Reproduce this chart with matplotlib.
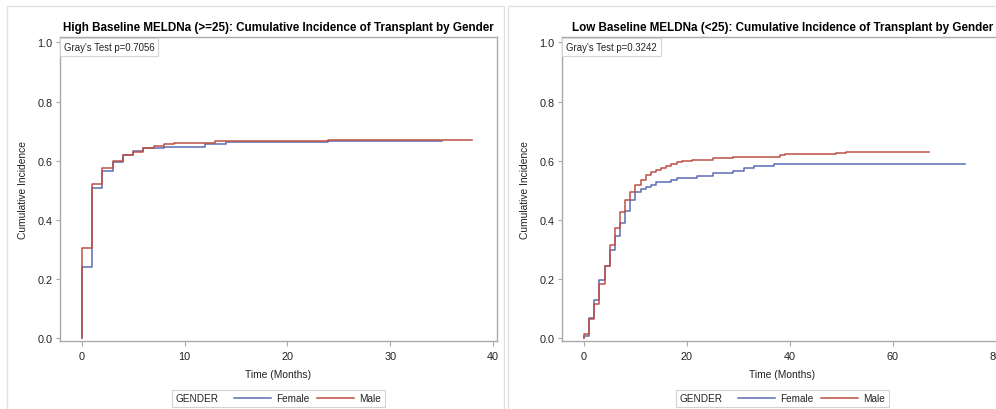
import matplotlib
matplotlib.use("Agg")
import matplotlib.pyplot as plt
from matplotlib.lines import Line2D
from matplotlib.patches import Rectangle
from matplotlib.offsetbox import HPacker

plt.rcParams['font.family'] = ['Liberation Sans', 'DejaVu Sans']

# ---------------- data ----------------
titles = ["High Baseline MELDNa (>=25): Cumulative Incidence of Transplant by Gender",
          "Low Baseline MELDNa (<25): Cumulative Incidence of Transplant by Gender"]
gray_tests = ["Gray's Test p=0.7056", "Gray's Test p=0.3242"]

# High baseline panel
high_female_t = [0, 1, 2, 3, 4, 5, 6, 7, 8, 12, 14, 24, 35]
high_female_ci = [0.240, 0.508, 0.564, 0.595, 0.620, 0.632, 0.642, 0.644, 0.646, 0.655, 0.664, 0.667, 0.667]
high_male_t = [0, 1, 2, 3, 4, 5, 6, 7, 8, 9, 13, 24, 38]
high_male_ci = [0.305, 0.521, 0.577, 0.599, 0.621, 0.628, 0.644, 0.651, 0.656, 0.660, 0.665, 0.670, 0.670]

# Low baseline panel
low_female_t = [0, 1, 2, 3, 4, 5, 6, 7, 8, 9, 10, 11, 12, 13, 14, 17, 18, 22, 25, 29, 31, 33, 37, 74]
low_female_ci = [0.007, 0.070, 0.128, 0.198, 0.243, 0.300, 0.346, 0.389, 0.431, 0.466, 0.493, 0.504,
                 0.512, 0.519, 0.527, 0.535, 0.543, 0.549, 0.557, 0.567, 0.574, 0.582, 0.590, 0.590]
low_male_t = [0, 1, 2, 3, 4, 5, 6, 7, 8, 9, 10, 11, 12, 13, 14, 15, 16, 17, 18, 19, 21, 25, 29,
              38, 39, 49, 51, 67]
low_male_ci = [0.014, 0.064, 0.117, 0.184, 0.243, 0.316, 0.373, 0.427, 0.466, 0.496, 0.518, 0.536,
               0.552, 0.561, 0.570, 0.576, 0.583, 0.589, 0.595, 0.599, 0.603, 0.609, 0.613,
               0.620, 0.623, 0.626, 0.631, 0.631]

groups = ["Female", "Male"]
legend_title = "GENDER"
xlabel = "Time (Months)"
ylabel = "Cumulative Incidence"
yticks = [0.0, 0.2, 0.4, 0.6, 0.8, 1.0]
xticks_high = [0, 10, 20, 30, 40]
xticks_low = [0, 20, 40, 60, 80]

# ---------------- style ----------------
C_F = '#5a6cb4'
C_M = '#bf4f45'
FRAME = '#a9a9a9'
TXT = '#222222'

W, H = 996, 410
fig = plt.figure(figsize=(W / 100, H / 100), dpi=100)

# panel borders (figure-level decoration)
for x0, x1 in [(7, 504), (508, 1010)]:
    fig.patches.append(Rectangle((x0 / W, -0.05), (x1 - x0) / W, 1 - 7 / H + 0.05,
                                 transform=fig.transFigure, fill=False,
                                 ec='#e2e2e2', lw=1.0))

bottom = (H - 341.7) / H
height = (341.7 - 38.3) / H
axes_specs = [
    (60 / W, (497 - 60) / W, (-2.11, 40.39), xticks_high,
     (high_female_t, high_female_ci), (high_male_t, high_male_ci)),
    (562 / W, (1003 - 562) / W, (-4.27, 81.42), xticks_low,
     (low_female_t, low_female_ci), (low_male_t, low_male_ci)),
]

for i, (left, width, xlim, xt, fem, mal) in enumerate(axes_specs):
    ax = fig.add_axes([left, bottom, width, height])
    for (t, ci), col, lab in [(fem, C_F, groups[0]), (mal, C_M, groups[1])]:
        ax.step([0] + list(t), [0] + list(ci), where='post', color=col, lw=1.1, label=lab)
    ax.set_xlim(*xlim)
    ax.set_ylim(-0.008, 1.017)
    ax.set_xticks(xt)
    ax.set_yticks(yticks)
    ax.set_yticklabels([f"{v:.1f}" for v in yticks])
    for s in ax.spines.values():
        s.set_color(FRAME)
        s.set_linewidth(1.0)
    ax.tick_params(axis='both', colors=FRAME, labelcolor=TXT, labelsize=7.8, width=0.8)
    ax.tick_params(axis='x', length=3.5, pad=4)
    ax.tick_params(axis='y', length=3, pad=2.5)

    ax.set_title(titles[i], fontsize=8.4, fontweight='bold', color='black', pad=5)
    ax.set_xlabel(xlabel, fontsize=7.4, color=TXT)
    ax.set_ylabel(ylabel, fontsize=7.4, color=TXT)
    ax.xaxis.set_label_coords(0.5, -0.11)
    ax.xaxis.label.set_va('center')
    ax.yaxis.set_label_coords(-0.085, 0.5)
    ax.yaxis.label.set_va('center')

    ax.text(0.009, 0.984, gray_tests[i], transform=ax.transAxes, fontsize=6.9,
            color=TXT, va='top', ha='left',
            bbox=dict(boxstyle='square,pad=0.4', fc='white', ec='#d4d4d4', lw=0.8))

    handles = [Line2D([], [], color=C_F, lw=1.1), Line2D([], [], color=C_M, lw=1.1)]
    leg = ax.legend(handles, groups, loc='center', bbox_to_anchor=(0.5, -0.189),
                    ncol=2, fontsize=7.2, title=legend_title, title_fontsize=7.2,
                    frameon=True, fancybox=False, edgecolor='#c8c8c8',
                    handlelength=3.7, handletextpad=0.55, columnspacing=0.75,
                    borderpad=0.3, borderaxespad=0)
    leg.get_frame().set_linewidth(0.8)
    for t in leg.get_texts():
        t.set_color(TXT)
    leg.get_title().set_color(TXT)
    fs = leg._fontsize
    newbox = HPacker(pad=0.35 * fs, sep=1.5 * fs, align='center',
                     children=[leg._legend_title_box, leg._legend_handle_box])
    newbox.set_figure(fig)
    newbox.axes = ax
    leg._legend_box = newbox
    leg._legend_box.set_offset(leg._findoffset)

fig.savefig('out.png', dpi=100)
